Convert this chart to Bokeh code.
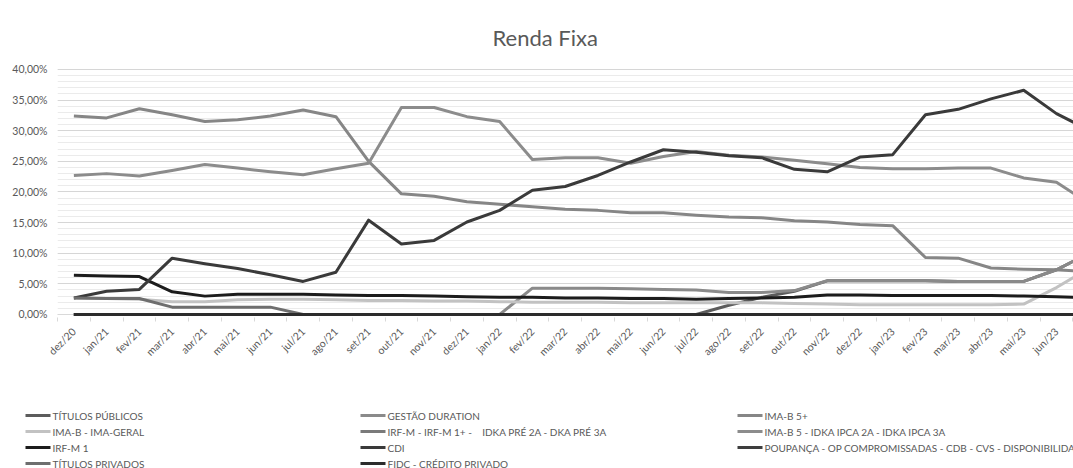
from math import pi
from bokeh.plotting import figure
from bokeh.layouts import column
from bokeh.models import Range1d, FixedTicker, Span, ColumnDataSource
from bokeh.core.properties import value
from bokeh.embed import file_html
from bokeh.resources import INLINE

months = ["dez/20", "jan/21", "fev/21", "mar/21", "abr/21", "mai/21", "jun/21", "jul/21",
          "ago/21", "set/21", "out/21", "nov/21", "dez/21", "jan/22", "fev/22", "mar/22",
          "abr/22", "mai/22", "jun/22", "jul/22", "ago/22", "set/22", "out/22", "nov/22",
          "dez/22", "jan/23", "fev/23", "mar/23", "abr/23", "mai/23", "jun/23", "jul/23"]

# values in percent of the portfolio
titulos_publicos = [0, 0, 0, 0, 0, 0, 0, 0, 0, 0, 0, 0, 0, 0, 0, 0, 0, 0, 0, 0,
                    1.5, 2.8, 3.8, 5.5, 5.5, 5.5, 5.5, 5.4, 5.4, 5.4, 7.3, 10.0]
gestao_duration = [0, 0, 0, 0, 0, 0, 0, 0, 0, 0, 0, 0, 0, 0, 4.3, 4.3, 4.3, 4.2, 4.1, 4.0,
                   3.6, 3.6, 3.9, 5.5, 5.5, 5.5, 5.5, 5.4, 5.4, 5.4, 7.3, 10.0]
ima_b5_mais = [32.4, 32.1, 33.6, 32.6, 31.5, 31.8, 32.4, 33.4, 32.3, 25.0, 19.7, 19.3,
               18.4, 18.0, 17.6, 17.2, 17.0, 16.6, 16.6, 16.2, 15.9, 15.8, 15.3, 15.1,
               14.7, 14.5, 9.3, 9.2, 7.6, 7.4, 7.3, 7.0]
ima_b_geral = [2.7, 2.6, 2.5, 2.1, 2.1, 2.4, 2.5, 2.5, 2.4, 2.3, 2.3, 2.2, 2.2, 2.1, 2.0,
               2.0, 2.0, 1.9, 1.9, 1.9, 1.9, 1.9, 1.8, 1.7, 1.6, 1.6, 1.6, 1.6, 1.6, 1.7,
               4.4, 7.6]
irf_m = [0] * 32
ima_b5_idka = [22.7, 23.0, 22.6, 23.5, 24.5, 23.9, 23.3, 22.8, 23.8, 24.7, 33.8, 33.8,
               32.3, 31.5, 25.3, 25.6, 25.6, 24.7, 25.8, 26.6, 26.0, 25.7, 25.2, 24.6,
               24.0, 23.8, 23.8, 23.9, 23.9, 22.3, 21.6, 18.1]
irf_m1 = [6.4, 6.3, 6.2, 3.7, 3.0, 3.3, 3.3, 3.3, 3.2, 3.1, 3.1, 3.0, 2.9, 2.8, 2.8, 2.7,
          2.7, 2.6, 2.6, 2.5, 2.6, 2.7, 2.8, 3.2, 3.2, 3.1, 3.1, 3.1, 3.1, 3.0, 2.9, 2.7]
cdi = [2.7, 3.8, 4.1, 9.2, 8.3, 7.5, 6.5, 5.4, 6.9, 15.4, 11.5, 12.1, 15.1, 17.0, 20.3,
       20.9, 22.7, 24.9, 26.9, 26.5, 25.9, 25.6, 23.7, 23.3, 25.7, 26.1, 32.6, 33.5, 35.2,
       36.6, 32.8, 30.1]
poupanca = [0] * 32
titulos_privados = [2.7, 2.6, 2.6, 1.2, 1.2, 1.2, 1.2, 0, 0, 0, 0, 0, 0, 0, 0, 0, 0, 0,
                    0, 0, 0, 0, 0, 0, 0, 0, 0, 0, 0, 0, 0, 0]
fidc = [0] * 32

names = ["TÍTULOS PÚBLICOS", "GESTÃO DURATION", "IMA-B 5+", "IMA-B - IMA-GERAL",
         "IRF-M - IRF-M 1+ -\u00a0\u00a0\u00a0\u00a0IDKA PRÉ 2A - DKA PRÉ 3A",
         "IMA-B 5 - IDKA IPCA 2A - IDKA IPCA 3A", "IRF-M 1", "CDI",
         "POUPANÇA - OP COMPROMISSADAS - CDB - CVS - DISPONIBILIDADE",
         "TÍTULOS PRIVADOS", "FIDC - CRÉDITO PRIVADO"]
values = [titulos_publicos, gestao_duration, ima_b5_mais, ima_b_geral, irf_m, ima_b5_idka,
          irf_m1, cdi, poupanca, titulos_privados, fidc]
colors = ["#5c5c5c", "#8a8a8a", "#868686", "#c2c2c2", "#7a7a7a", "#8c8c8c", "#1c1c1c",
          "#3a3a3a", "#3e3e3e", "#6e6e6e", "#2c2c2c"]

y_ticks = [0, 5, 10, 15, 20, 25, 30, 35, 40]
y_labels = ["0,00%", "5,00%", "10,00%", "15,00%", "20,00%", "25,00%", "30,00%", "35,00%", "40,00%"]

FONT = "Lato"
GRAY_TXT = "#595959"
W = 1073
H_MAIN = 395
H_LEG = 468 - H_MAIN

p = figure(width=W, height=H_MAIN, output_backend="svg", toolbar_location=None,
           x_range=Range1d(-0.5, 30.52), y_range=Range1d(-0.49, 40.163),
           min_border_left=57, min_border_right=0, min_border_top=68,
           min_border_bottom=H_MAIN - 317)
p.frame_align = False
p.outline_line_color = None
p.background_fill_color = "white"

p.title.text = "Renda Fixa"
p.title.align = "left"
p.title.offset = 435
p.title.text_font = FONT
p.title.text_font_size = "22px"
p.title.text_font_style = "normal"
p.title.text_color = GRAY_TXT
p.title.standoff = 35

xs = list(range(len(months)))
for name, vals, col in zip(names, values, colors):
    p.line(xs, vals, line_color=col, line_width=3, line_join="round")

p.add_layout(Span(location=0, dimension="width", line_color="#d9d9d9", line_width=1,
                  level="underlay"))

# y axis
p.yaxis.ticker = FixedTicker(ticks=y_ticks, minor_ticks=list(range(0, 41)))
p.yaxis.major_label_overrides = {t: l for t, l in zip(y_ticks, y_labels)}
p.yaxis.axis_line_color = None
p.yaxis.major_tick_line_color = None
p.yaxis.major_tick_out = 0
p.yaxis.major_tick_in = 0
p.yaxis.minor_tick_line_color = None
p.yaxis.minor_tick_out = 0
p.yaxis.minor_tick_in = 0
p.yaxis.major_label_standoff = 10
p.yaxis.major_label_text_font = FONT
p.yaxis.major_label_text_font_size = "10.5px"
p.yaxis.major_label_text_color = GRAY_TXT

p.ygrid.grid_line_color = "#d6d6d6"
p.ygrid.minor_grid_line_color = "#ebebeb"
p.xgrid.grid_line_color = None

# x axis
p.xaxis.ticker = FixedTicker(ticks=xs, minor_ticks=[i - 0.5 for i in range(len(months) + 1)])
p.xaxis.major_label_overrides = {i: m for i, m in enumerate(months)}
p.xaxis.axis_line_color = None
p.xaxis.major_tick_line_color = None
p.xaxis.major_tick_out = 0
p.xaxis.major_tick_in = 0
p.xaxis.minor_tick_line_color = "#d9d9d9"
p.xaxis.minor_tick_in = 0
p.xaxis.minor_tick_out = 4
p.xaxis.major_label_orientation = pi / 4
p.xaxis.major_label_standoff = 8
p.xaxis.major_label_text_font = FONT
p.xaxis.major_label_text_font_size = "10.5px"
p.xaxis.major_label_text_color = GRAY_TXT

# legend panel below the chart (three columns, row-major like the original)
lg_fig = figure(width=W, height=H_LEG, output_backend="svg", toolbar_location=None,
                x_range=Range1d(0, W), y_range=Range1d(H_LEG, 0),
                x_axis_location=None, y_axis_location=None,
                min_border_left=0, min_border_right=0, min_border_top=0, min_border_bottom=0)
lg_fig.frame_align = False
lg_fig.grid.visible = False
lg_fig.outline_line_color = None

columns_idx = [[0, 3, 6, 9], [1, 4, 7, 10], [2, 5, 8]]
col_x = [25, 360, 737]
row_y = [20, 36, 52, 68]
sx0, sx1, sy, tx, ty, tl, tc = [], [], [], [], [], [], []
for idxs, cx in zip(columns_idx, col_x):
    for r, i in enumerate(idxs):
        sx0.append(cx)
        sx1.append(cx + 25)
        sy.append(row_y[r])
        tx.append(cx + 27)
        ty.append(row_y[r])
        tl.append(names[i])
        tc.append(colors[i])
lg_src = ColumnDataSource(dict(x0=sx0, x1=sx1, y=sy, tx=tx, ty=ty, label=tl, color=tc))
lg_fig.segment(x0="x0", y0="y", x1="x1", y1="y", line_color="color", line_width=3,
               source=lg_src)
lg_fig.text(x="tx", y="ty", text="label", source=lg_src, text_font=value(FONT),
            text_font_size="10px", text_color=GRAY_TXT, text_baseline="middle",
            text_align="left")

layout = column(p, lg_fig, spacing=0)
open("out.html", "w").write(file_html(layout, INLINE))
